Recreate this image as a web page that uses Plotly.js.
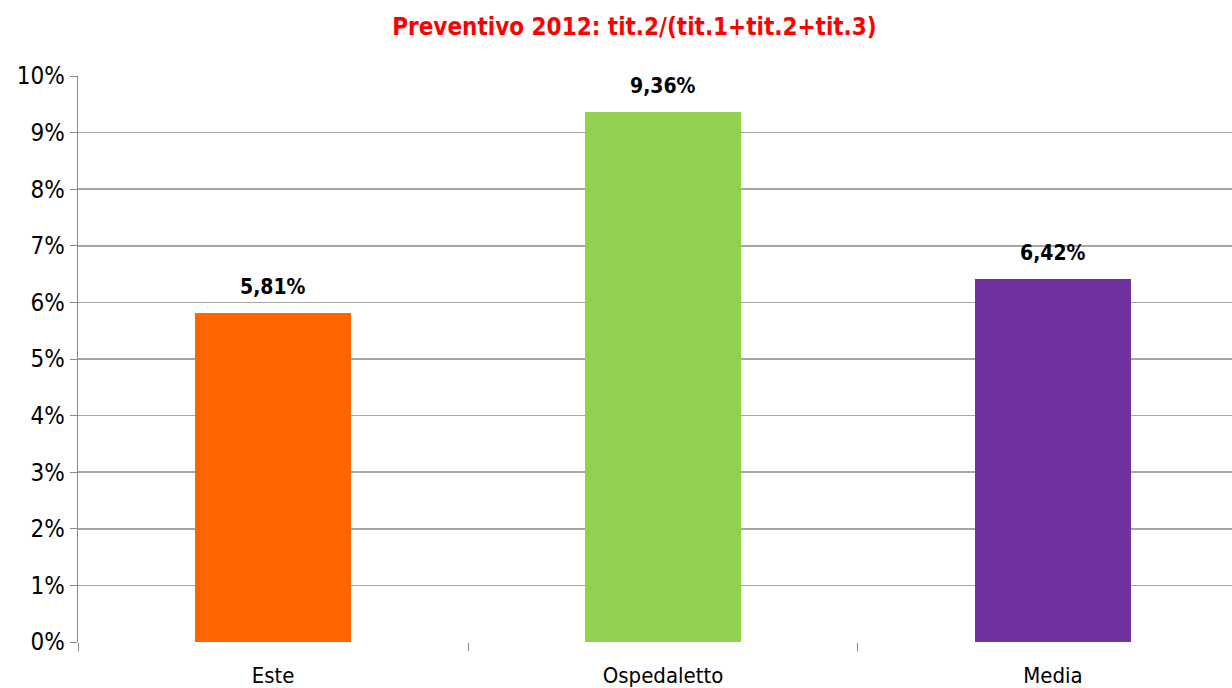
<!DOCTYPE html>
<html>
<head>
<meta charset="utf-8">
<script src="https://cdn.plot.ly/plotly-3.0.1.min.js"></script>
<style>html,body{margin:0;padding:0;background:#fff;}#chart{width:1232px;height:688px;}</style>
</head>
<body>
<div id="chart"></div>
<script>
var categories = ["Este", "Ospedaletto", "Media"];
var values = [5.81, 9.36, 6.42];
var valueLabels = ["5,81%", "9,36%", "6,42%"];
var barColors = ["#FF6600", "#92D050", "#7030A0"];
var yTickVals = [0,1,2,3,4,5,6,7,8,9,10];
var yTickText = ["0%","1%","2%","3%","4%","5%","6%","7%","8%","9%","10%"];
var dividerVals = [-0.5, 0.5, 1.5, 2.5];

var FONT = '"Liberation Sans Narrow", "Arial Narrow", "DejaVu Sans Condensed", sans-serif';
var xIdx = categories.map(function(_, i){ return i; });

var data = [{
  type: 'bar',
  x: xIdx,
  y: values,
  width: 0.4,
  marker: {color: barColors, line: {width: 0}},
  hoverinfo: 'skip'
}, {
  type: 'scatter', x: dividerVals, y: [0,0,0,0], xaxis: 'x2', mode: 'none', hoverinfo: 'skip', showlegend: false
}];

var annotations = xIdx.map(function(i){
  return {x: i, y: values[i], xref: 'x', yref: 'y', text: '<b>' + valueLabels[i] + '</b>',
    showarrow: false, yanchor: 'bottom', yshift: 12,
    font: {family: FONT, size: 21, color: '#000'}};
});

var layout = {
  width: 1232, height: 688,
  margin: {l: 78, r: 0, t: 76, b: 46, pad: 0},
  paper_bgcolor: '#fff', plot_bgcolor: '#fff',
  showlegend: false,
  bargap: 0,
  annotations: annotations,
  title: {text: '<b>Preventivo 2012: tit.2/(tit.1+tit.2+tit.3)</b>', font: {family: FONT, size: 24, color: '#FF0000'}, x: 0.515, xanchor: 'center', y: 0.962, yanchor: 'middle'},
  xaxis: {
    range: [-0.5, 2.459], tickvals: xIdx, ticktext: categories, ticks: '',
    ticklabelstandoff: 18,
    showgrid: false, zeroline: false, showline: false,
    tickfont: {family: FONT, size: 22, color: '#000'}, fixedrange: true
  },
  xaxis2: {
    overlaying: 'x', range: [-0.5, 2.459], tickvals: dividerVals, showticklabels: false,
    ticks: 'outside', ticklen: 8, tickwidth: 1, tickcolor: '#888', showgrid: false, zeroline: false, showline: false,
    side: 'bottom', anchor: 'y'
  },
  yaxis: {
    range: [0, 10], tickvals: yTickVals, ticktext: yTickText,
    ticks: 'outside', ticklen: 7, tickcolor: '#888', tickwidth: 1,
    showgrid: true, gridcolor: '#A6A6A6', gridwidth: 1.5,
    showline: true, linecolor: '#888', linewidth: 1.5,
    zeroline: false,
    tickfont: {family: FONT, size: 24, color: '#000'}, fixedrange: true
  }
};

Plotly.newPlot('chart', data, layout, {staticPlot: true, displayModeBar: false});
</script>
</body>
</html>
